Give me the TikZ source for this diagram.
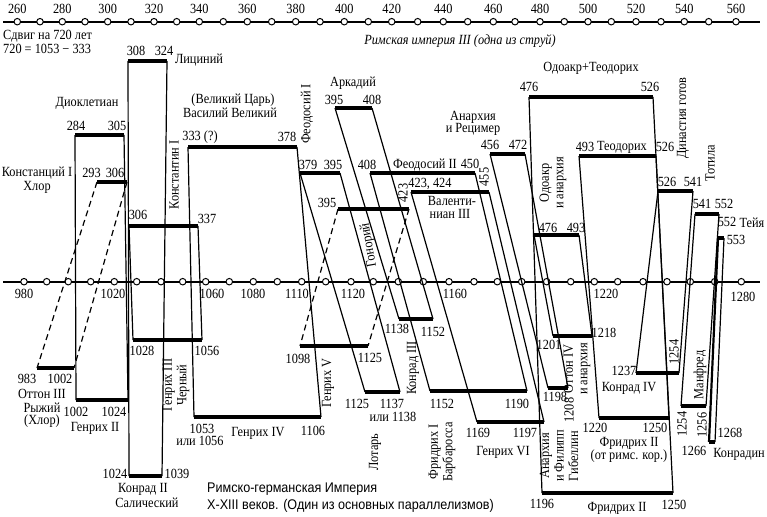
\documentclass[tikz,border=0pt]{standalone}
\usepackage{fontspec}
\setmainfont{Liberation Serif}[FakeStretch=0.88]
\newfontfamily\capfont{Liberation Sans}[FakeStretch=0.9]
\begin{document}
\begin{tikzpicture}[x=1pt,y=-1pt,
  barline/.style={line width=4.2pt},
  link/.style={line width=1.2pt},
  dlink/.style={line width=1.2pt, dash pattern=on 6pt off 4pt},
  axisline/.style={line width=2pt},
  tick/.style={circle, draw, fill=white, line width=1pt, inner sep=0pt, minimum size=6.5pt},
  lbl/.style={inner sep=0pt, font=\fontsize{14}{14.5}\selectfont},
  rlbl/.style={lbl, rotate=90, align=center},
  caplbl/.style={inner sep=0pt, anchor=west, font=\capfont\fontsize{14}{15}\selectfont}]
\useasboundingbox (0,0) rectangle (767,516);

% ---------- axes ----------
\coordinate (ta0) at (3,21.7); \coordinate (ta1) at (760,21.7);
\coordinate (ma0) at (3,281.7); \coordinate (ma1) at (760,281.7);
\draw[axisline] (ta0) -- (ta1);
\draw[axisline] (ma0) -- (ma1);
\foreach \x [count=\i] in {17.3,40,62.3,85,107.7,131,154,176.7,199.3,223.3,247.3,271.7,295.7,320,344.3,368.3,391.7,417.7,443.3,467.7,493.3,515,540,564.3,588,611.3,636,661,684.3,708.7,736}
  \node[tick] (tc\i) at (\x,21.7) {};
\foreach \x [count=\i] in {24,46.7,68.3,90.7,114.3,136.7,161,182.7,205.7,229.3,253.3,277.3,301.7,325.7,351,373.3,398.3,423.3,449,474,497.3,521.7,546.7,570.7,594.3,617.7,643,667,690.3,714.7,741.3}
  \node[tick] (mc\i) at (\x,281.7) {};
\foreach \x/\t [count=\i] in {17.3/260,62.3/280,107.7/300,154/320,199.3/340,247.3/360,295.7/380,344.3/400,391.7/420,443.3/440,493.3/460,540/480,588/500,636/520,684.3/540,736/560}
  \node[lbl] (tl\i) at (\x,8.5) {\t};
\foreach \x/\t [count=\i] in {24/980,113/1020,212/1060,253/1080,297/1110,353/1120,455/1160,606/1220}
  \node[lbl] (ml\i) at (\x,294) {\t};
\node[lbl] (ml9) at (743,297) {1280};

\node[lbl, anchor=west] (shift1) at (3,35.7) {Сдвиг на 720 лет};
\node[lbl, anchor=west] (shift2) at (3,49.3) {720 = 1053 − 333};
\node[lbl] (rim3) at (460,41) {\itshape Римская империя III (одна из струй)};

% ---------- upper bars (Roman) ----------
\coordinate (dioL) at (75,135);  \coordinate (dioR) at (124,135);
\coordinate (licL) at (128,61);  \coordinate (licR) at (167,61);
\coordinate (konL) at (97,182);  \coordinate (konR) at (127,182);
\coordinate (ktnL) at (129,226); \coordinate (ktnR) at (198,226);
\coordinate (basL) at (188,147); \coordinate (basR) at (297,147);
\coordinate (fe1L) at (300,173); \coordinate (fe1R) at (340,173);
\coordinate (arkL) at (335,108); \coordinate (arkR) at (372,108);
\coordinate (gonL) at (338,209); \coordinate (gonR) at (409,209);
\coordinate (fe2L) at (370,173); \coordinate (fe2R) at (475,173);
\coordinate (valL) at (411,192); \coordinate (valR) at (489,192);
\coordinate (anrL) at (490,154); \coordinate (anrR) at (525,154);
\coordinate (odtL) at (529,97);  \coordinate (odtR) at (653,97);
\coordinate (odaL) at (534,235); \coordinate (odaR) at (579,235);
\coordinate (teoL) at (579,156); \coordinate (teoR) at (656,156);
\coordinate (gotL) at (658,191); \coordinate (gotR) at (693,191);
\coordinate (totL) at (695,214); \coordinate (totR) at (719,214);
\coordinate (teiL) at (718,238); \coordinate (teiR) at (724,238);

% ---------- lower bars (German) ----------
\coordinate (he2L) at (76,400);  \coordinate (he2R) at (128,400);
\coordinate (ko2L) at (129,476); \coordinate (ko2R) at (162,476);
\coordinate (ot3L) at (37,368);  \coordinate (ot3R) at (74,368);
\coordinate (he3L) at (133,340); \coordinate (he3R) at (202,340);
\coordinate (he4L) at (194,417); \coordinate (he4R) at (321,417);
\coordinate (lotL) at (365,392); \coordinate (lotR) at (400,392);
\coordinate (ko3L) at (399,319); \coordinate (ko3R) at (433,319);
\coordinate (he5L) at (300,346); \coordinate (he5R) at (368,346);
\coordinate (fr1L) at (430,391); \coordinate (fr1R) at (527,391);
\coordinate (he6L) at (477,422); \coordinate (he6R) at (544,422);
\coordinate (afgL) at (548,388); \coordinate (afgR) at (568,388);
\coordinate (fr2L) at (542,493); \coordinate (fr2R) at (673,493);
\coordinate (ot4L) at (553,336); \coordinate (ot4R) at (592,336);
\coordinate (frrL) at (599,418); \coordinate (frrR) at (669,418);
\coordinate (ko4L) at (636,373); \coordinate (ko4R) at (679,373);
\coordinate (manL) at (681,406); \coordinate (manR) at (706,406);
\coordinate (kdnL) at (709,442); \coordinate (kdnR) at (715,442);

% connectors
\foreach \a/\b in {dio/he2, lic/ko2, ktn/he3, bas/he4, fe1/lot, ark/ko3, fe2/fr1, val/he6, anr/afg, odt/fr2, oda/ot4, teo/frr, got/ko4, tot/man}{
  \draw[link] (\a L) -- (\b L);
  \draw[link] (\a R) -- (\b R);
}
\draw[dlink] (konL) -- (ot3L);
\draw[dlink] (konR) -- (ot3R);
\draw[dlink] (gonL) -- (he5L);
\draw[dlink] (gonR) -- (he5R);
\draw[line width=2.2pt] (teiL) -- (kdnL);
\draw[link] (teiR) -- (kdnR);

% bars
\foreach \a in {dio,lic,kon,ktn,bas,fe1,ark,gon,fe2,val,anr,odt,oda,teo,got,tot,tei,he2,ko2,ot3,he3,he4,lot,ko3,he5,fr1,he6,afg,fr2,ot4,frr,ko4,man,kdn}
  \draw[barline] (\a L) -- (\a R);

% ---------- upper labels ----------
\node[lbl] (nLic) at (199,60) {Лициний};
\node[lbl] (n308) at (136,51) {308};
\node[lbl] (n324) at (164,51) {324};
\node[lbl] (nDio) at (87,103) {Диоклетиан};
\node[lbl] (n284) at (76,126) {284};
\node[lbl] (n305) at (117,126) {305};
\node[lbl] (nKon) at (37,173) {Констанций I};
\node[lbl] (nHlo) at (37,187) {Хлор};
\node[lbl] (n293) at (91.5,173) {293};
\node[lbl] (n306a) at (115,173) {306};
\node[lbl] (n306b) at (138,215) {306};
\node[lbl] (n337) at (207,219) {337};
\node[rlbl] (nKtn) at (174,175) {Константин I};
\node[lbl] (nVel) at (233,100) {(Великий Царь)};
\node[lbl] (nBas) at (230,113) {Василий Великий};
\node[lbl] (n333) at (200,137) {333 (?)};
\node[lbl] (n378) at (287,137) {378};
\node[rlbl] (nFe1) at (307,114) {Феодосий I};
\node[lbl] (nArk) at (353,83) {Аркадий};
\node[lbl] (n395a) at (334,100) {395};
\node[lbl] (n408a) at (372,100) {408};
\node[lbl] (n379) at (308,165) {379};
\node[lbl] (n395b) at (333,165) {395};
\node[lbl] (n408b) at (367,165) {408};
\node[lbl] (nFe2) at (425,165) {Феодосий II};
\node[lbl] (n450) at (470,164) {450};
\node[lbl] (n395c) at (327,203) {395};
\node[lbl, rotate=100] (nGon) at (369,245) {Гонорий};
\node[rlbl] (n423a) at (403,193) {423};
\node[lbl] (n423b) at (430,184) {423, 424};
\node[lbl] (nVal1) at (452,201) {Валенти-};
\node[lbl] (nVal2) at (450,214) {ниан III};
\node[rlbl] (n455) at (484,177) {455};
\node[lbl] (nAnr1) at (473,117) {Анархия};
\node[lbl] (nAnr2) at (473,129) {и Рецимер};
\node[lbl] (n456) at (490,145) {456};
\node[lbl] (n472) at (518,145) {472};
\node[lbl] (nOdt) at (591,68) {Одоакр+Теодорих};
\node[lbl] (n476a) at (529,87) {476};
\node[lbl] (n526a) at (650,87) {526};
\node[rlbl] (nOda) at (553,183) {Одоакр\\и анархия};
\node[lbl] (n476b) at (548,228) {476};
\node[lbl] (n493a) at (576,228) {493};
\node[lbl] (n493b) at (585,147) {493};
\node[lbl] (nTeo) at (622,147) {Теодорих};
\node[lbl] (n526b) at (665,147) {526};
\node[rlbl] (nGot) at (683,118) {Династия готов};
\node[rlbl] (nTot) at (710,163) {Тотила};
\node[lbl] (n526c) at (667,182) {526};
\node[lbl] (n541a) at (693,182) {541};
\node[lbl] (n541b) at (702,204) {541};
\node[lbl] (n552a) at (724,204) {552};
\node[lbl] (n552b) at (727,222) {552};
\node[lbl] (nTei) at (752,223) {Тейя};
\node[lbl] (n553) at (736,240) {553};

% ---------- lower labels ----------
\node[lbl] (n983) at (27,379) {983};
\node[lbl] (n1002a) at (60,379) {1002};
\node[lbl] (nOt3a) at (42,394) {Оттон III};
\node[lbl] (nOt3b) at (42,408) {Рыжий};
\node[lbl] (nOt3c) at (42,421) {(Хлор)};
\node[lbl] (n1002b) at (76,412) {1002};
\node[lbl] (n1024a) at (114,412) {1024};
\node[lbl] (nHe2) at (95,428) {Генрих II};
\node[lbl] (n1028) at (142,351) {1028};
\node[lbl] (n1056a) at (207,351) {1056};
\node[rlbl] (nHe3) at (176,385) {Генрих III\\Черный};
\node[lbl] (n1024b) at (115,474) {1024};
\node[lbl] (n1039) at (177,474) {1039};
\node[lbl] (nKo2a) at (143,489) {Конрад II};
\node[lbl] (nKo2b) at (147,503) {Салический};
\node[lbl] (n1053) at (202,429) {1053};
\node[lbl] (n1056b) at (200,441) {или 1056};
\node[lbl] (nHe4) at (258,433) {Генрих IV};
\node[lbl] (n1106) at (313,431) {1106};
\node[lbl] (n1098) at (298,359) {1098};
\node[lbl] (n1125a) at (370,358) {1125};
\node[rlbl] (nHe5) at (328,383) {Генрих V};
\node[lbl] (n1125b) at (357,404) {1125};
\node[lbl] (n1137) at (392,404) {1137};
\node[lbl] (n1138a) at (393,417) {или 1138};
\node[rlbl] (nLot) at (375,452) {Лотарь};
\node[lbl] (n1138b) at (397,329) {1138};
\node[lbl] (n1152a) at (433,332) {1152};
\node[rlbl] (nKo3) at (413,368) {Конрад III};
\node[lbl] (n1152b) at (442,404) {1152};
\node[lbl] (n1190) at (517,404) {1190};
\node[rlbl] (nFr1) at (442,452) {Фридрих I\\Барбаросса};
\node[lbl] (n1169) at (478,433) {1169};
\node[lbl] (n1197) at (525,433) {1197};
\node[lbl] (nHe6) at (503,452) {Генрих VI};
\node[lbl] (n1198) at (555,397) {1198};
\node[rlbl] (n1208) at (569,410) {1208};
\node[rlbl] (nAfg) at (559,456) {Анархия\\и Филипп\\Гибеллин};
\node[lbl] (n1201) at (549,345) {1201};
\node[rlbl] (nOt4) at (577,369) {Оттон IV\\и анархия};
\node[lbl] (n1218) at (604,333) {1218};
\node[lbl] (n1196) at (542,504) {1196};
\node[lbl] (nFr2a) at (617,508) {Фридрих II};
\node[lbl] (n1250a) at (674,505) {1250};
\node[lbl] (n1220) at (595,428) {1220};
\node[lbl] (n1250b) at (655,428) {1250};
\node[lbl] (nFr2b) at (629,443) {Фридрих II};
\node[lbl] (nFr2c) at (629,456) {(от римс. кор.)};
\node[lbl] (n1237) at (624,371) {1237};
\node[lbl] (nKo4) at (629,388) {Конрад IV};
\node[rlbl] (n1254a) at (674,352) {1254};
\node[rlbl] (nMan) at (700,375) {Манфред};
\node[rlbl] (n1254b) at (682,424) {1254};
\node[rlbl] (n1256) at (702,425) {1256};
\node[lbl] (n1266) at (694,451) {1266};
\node[lbl] (n1268) at (730,433) {1268};
\node[lbl] (nKdn) at (739,454) {Конрадин};

\node[caplbl] (cap1) at (207,489) {Римско-германская Империя};
\node[caplbl] (cap2) at (207,506) {X-XIII веков. (Один из основных параллелизмов)};
\end{tikzpicture}
\end{document}
